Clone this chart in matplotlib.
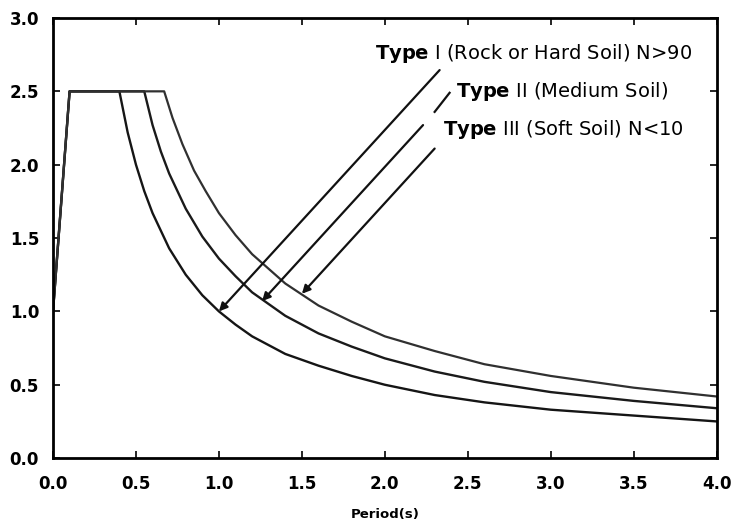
import matplotlib
matplotlib.use("Agg")
import matplotlib.pyplot as plt

# spectra (period in s, Sa/g)
t_rock = [0.0, 0.1, 0.4, 0.45, 0.5, 0.55, 0.6, 0.7, 0.8, 0.9, 1.0, 1.1, 1.2, 1.4, 1.6, 1.8, 2.0, 2.3, 2.6, 3.0, 3.5, 4.0]
sa_rock = [1.0, 2.5, 2.5, 2.22, 2.0, 1.82, 1.67, 1.43, 1.25, 1.11, 1.0, 0.91, 0.83, 0.71, 0.63, 0.56, 0.5, 0.43, 0.38, 0.33, 0.29, 0.25]

t_medium = [0.0, 0.1, 0.55, 0.6, 0.65, 0.7, 0.8, 0.9, 1.0, 1.1, 1.2, 1.4, 1.6, 1.8, 2.0, 2.3, 2.6, 3.0, 3.5, 4.0]
sa_medium = [1.0, 2.5, 2.5, 2.27, 2.09, 1.94, 1.70, 1.51, 1.36, 1.24, 1.13, 0.97, 0.85, 0.76, 0.68, 0.59, 0.52, 0.45, 0.39, 0.34]

t_soft = [0.0, 0.1, 0.67, 0.72, 0.78, 0.85, 0.92, 1.0, 1.1, 1.2, 1.4, 1.6, 1.8, 2.0, 2.3, 2.6, 3.0, 3.5, 4.0]
sa_soft = [1.0, 2.5, 2.5, 2.32, 2.14, 1.96, 1.82, 1.67, 1.52, 1.39, 1.19, 1.04, 0.93, 0.83, 0.73, 0.64, 0.56, 0.48, 0.42]

x_ticks = [0.0, 0.5, 1.0, 1.5, 2.0, 2.5, 3.0, 3.5, 4.0]
y_ticks = [0.0, 0.5, 1.0, 1.5, 2.0, 2.5, 3.0]

labels = [r"$\mathbf{Type}$ I (Rock or Hard Soil) N>90",
          r"$\mathbf{Type}$ II (Medium Soil)",
          r"$\mathbf{Type}$ III (Soft Soil) N<10"]
label_xy = [(1.94, 2.76), (2.43, 2.50), (2.35, 2.24)]
arrow_tail = [(2.33, 2.645), (2.23, 2.27), (2.30, 2.11)]
arrow_tip = [(1.0, 1.0), (1.26, 1.07), (1.5, 1.12)]

plt.rcParams['mathtext.fontset'] = 'dejavusans'

fig = plt.figure(figsize=(7.31, 5.29), dpi=100)
ax = fig.add_axes([0.0725, 0.134, 0.908, 0.832])

ax.plot(t_rock, sa_rock, color='#151515', lw=1.7)
ax.plot(t_medium, sa_medium, color='#1a1a1a', lw=1.7)
ax.plot(t_soft, sa_soft, color='#303030', lw=1.6)

for (lx, ly), txt in zip(label_xy, labels):
    ax.text(lx, ly, txt, fontsize=14, va='center', ha='left', color='black')

for tail, tip in zip(arrow_tail, arrow_tip):
    ax.annotate('', xy=tip, xytext=tail,
                arrowprops=dict(arrowstyle='-|>', color='#111111', lw=1.6,
                                mutation_scale=12, shrinkA=0, shrinkB=0))
# little stroke in front of the Type II label
ax.plot([2.30, 2.39], [2.36, 2.49], color='#111111', lw=1.6)

ax.set_xlim(0, 4)
ax.set_ylim(0, 3)
ax.set_xticks(x_ticks)
ax.set_yticks(y_ticks)
ax.set_xticklabels(['%.1f' % v for v in x_ticks], fontweight='bold', fontsize=12)
ax.set_yticklabels(['%.1f' % v for v in y_ticks], fontweight='bold', fontsize=12)
ax.tick_params(direction='in', length=5, width=1.2, top=True, right=True)
ax.tick_params(axis='x', pad=12)
ax.tick_params(axis='y', pad=10)
for s in ax.spines.values():
    s.set_linewidth(2)
    s.set_color('black')

ax.set_xlabel('Period(s)', fontsize=9.5, fontweight='bold', labelpad=11)

fig.savefig('out.png', dpi=100)
